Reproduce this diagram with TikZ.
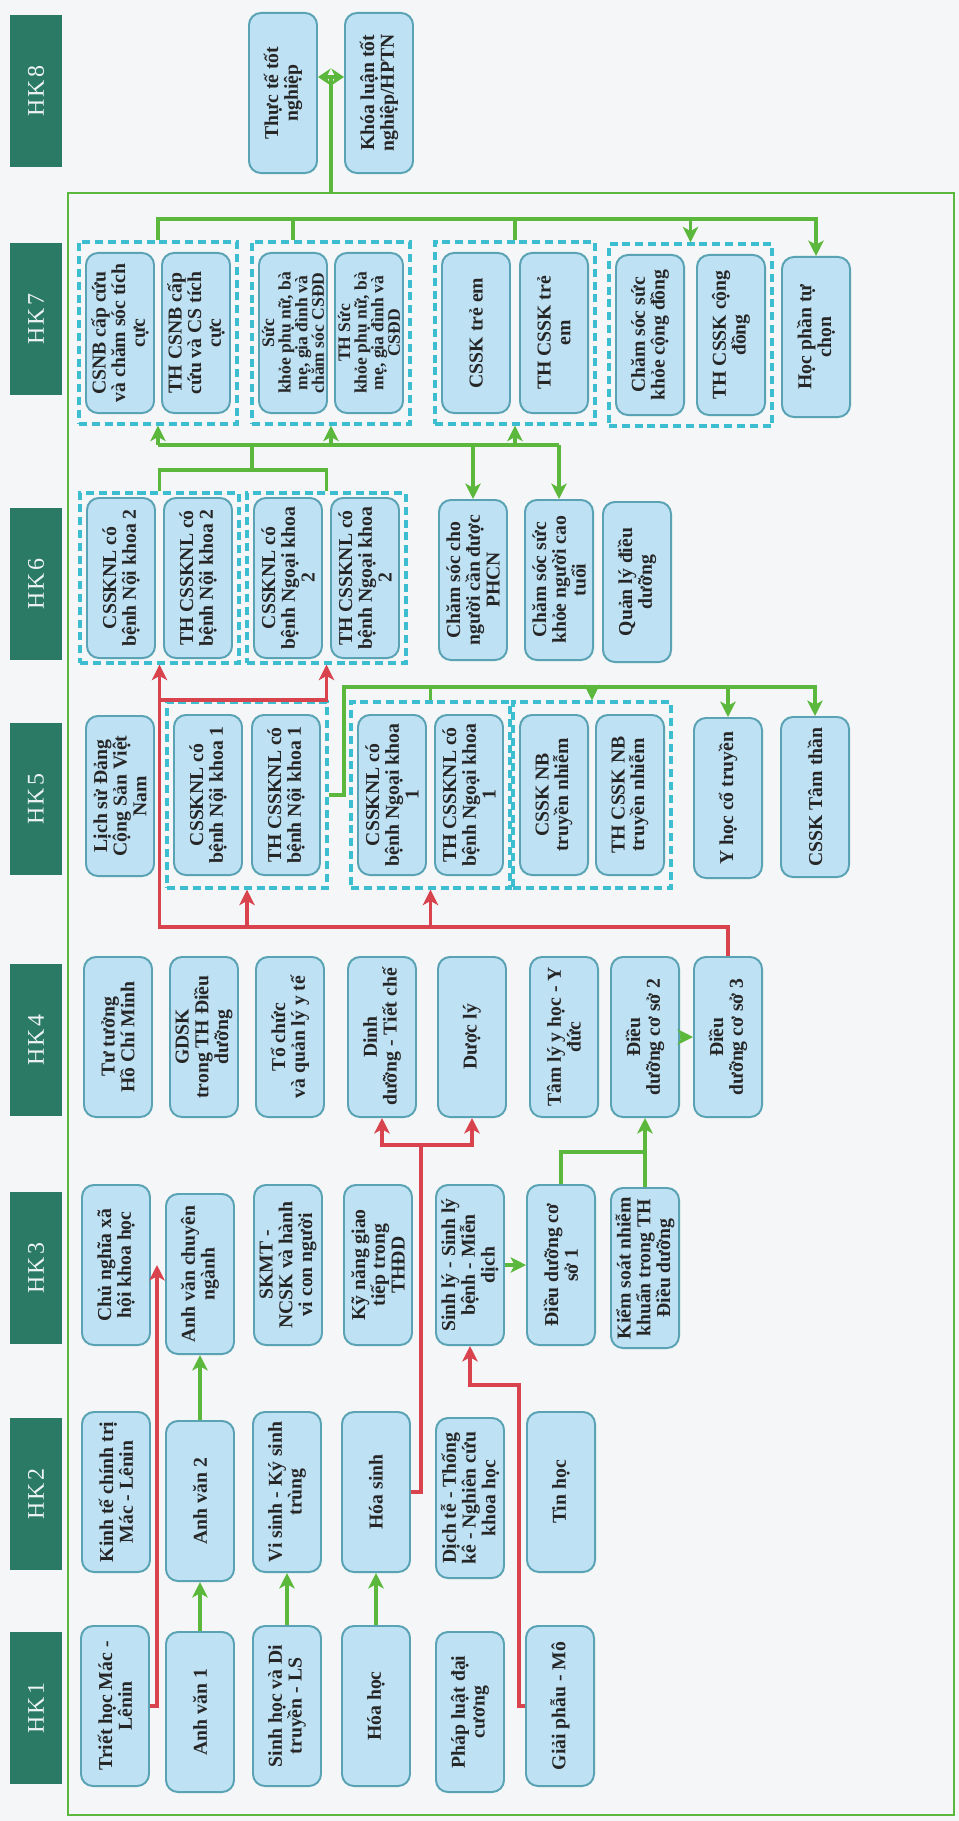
\documentclass[tikz,border=0pt]{standalone}
\usepackage{fontspec}
\setmainfont{Liberation Serif}
\newfontfamily\hkfont[LetterSpace=8]{Liberation Serif}
\usetikzlibrary{arrows.meta,fit}
\definecolor{hkteal}{HTML}{2A7A65}
\definecolor{boxfill}{HTML}{BFE1F4}
\definecolor{boxline}{HTML}{5AA3B5}
\definecolor{grpline}{HTML}{3DBDD0}
\definecolor{lgreen}{HTML}{5CB83C}
\definecolor{lred}{HTML}{D9434E}
\definecolor{paper}{HTML}{F4F6F7}

\begin{document}
\begin{tikzpicture}[x=0.025cm,y=-0.025cm,
                    hk/.style={fill=hkteal,text=white!92!hkteal,rotate=90,minimum width=3.8cm,minimum height=1.3cm,font=\hkfont\fontsize{17}{17}\selectfont},
                    course/.style={draw=boxline,line width=1.4pt,fill=boxfill,rounded corners=0.3cm,rotate=90,minimum width=4cm,minimum height=1.7cm,inner sep=1pt,align=center,text=black!85,font=\bfseries\fontsize{14}{14}\selectfont},
                    fourline/.style={font=\bfseries\fontsize{12.5}{11.8}\selectfont},
                    grp/.style={draw=grpline,line width=2.4pt,dash pattern=on 0.2cm off 0.12cm,inner xsep=0.15cm,inner ysep=0.25cm},
                    gline/.style={draw=lgreen,line width=2.6pt},
                    rline/.style={draw=lred,line width=2.4pt},
                    gto/.style={gline,-{Stealth[length=11pt,width=11pt,inset=3pt]}},
                    rto/.style={rline,-{Stealth[length=11pt,width=11pt,inset=3pt]}}]
                    \useasboundingbox (0,0) rectangle (959,1821);
                    \fill[paper] (0,0) rectangle (959,1821);
                    \draw[lgreen,line width=2pt] (68,193) rectangle (954,1815);
                    \node[hk] (hk8) at (36,91) {HK8};
                    \node[hk] (hk7) at (36,319) {HK7};
                    \node[hk] (hk6) at (36,584) {HK6};
                    \node[hk] (hk5) at (36,799) {HK5};
                    \node[hk] (hk4) at (36,1040) {HK4};
                    \node[hk] (hk3) at (36,1268) {HK3};
                    \node[hk] (hk2) at (36,1494) {HK2};
                    \node[hk] (hk1) at (36,1708) {HK1};
                    \node[course] (thucte) at (283,93) {Thực tế tốt\\nghiệp};
                    \node[course] (khoaluan) at (379,93) {Khóa luận tốt\\nghiệp/HPTN};
                    \node[course] (csnb) at (120,333) {CSNB cấp cứu\\và chăm sóc tích\\cực};
                    \node[course] (thcsnb) at (196,333) {TH CSNB cấp\\cứu và CS tích\\cực};
                    \node[course,fourline] (skpn) at (293,333) {Sức\\khỏe phụ nữ, bà\\mẹ, gia đình và\\chăm sóc CSĐD};
                    \node[course,fourline] (thskpn) at (369,333) {TH Sức\\khỏe phụ nữ, bà\\mẹ, gia đình và\\CSĐD};
                    \node[course] (csskte) at (476,333) {CSSK trẻ em};
                    \node[course] (thcsskte) at (554,333) {TH CSSK trẻ\\em};
                    \node[course] (cscd) at (650,335) {Chăm sóc sức\\khỏe cộng đồng};
                    \node[course] (thcscd) at (731,335) {TH CSSK cộng\\đồng};
                    \node[course] (hptc) at (816,337) {Học phần tự\\chọn};
                    \node[grp,fit=(csnb)(thcsnb)] (g7a) {};
                    \node[grp,fit=(skpn)(thskpn)] (g7b) {};
                    \node[grp,fit=(csskte)(thcsskte)] (g7c) {};
                    \node[grp,fit=(cscd)(thcscd)] (g7d) {};
                    \node[course] (nk2) at (121,578) {CSSKNL có\\bệnh Nội khoa 2};
                    \node[course] (thnk2) at (198,578) {TH CSSKNL có\\bệnh Nội khoa 2};
                    \node[course] (ngk2) at (288,578) {CSSKNL có\\bệnh Ngoại khoa\\2};
                    \node[course] (thngk2) at (365,578) {TH CSSKNL có\\bệnh Ngoại khoa\\2};
                    \node[course] (phcn) at (473,580) {Chăm sóc cho\\người cần được\\PHCN};
                    \node[course] (caotuoi) at (559,580) {Chăm sóc sức\\khỏe người cao\\tuổi};
                    \node[course] (qldd) at (637,582) {Quản lý điều\\dưỡng};
                    \node[grp,inner ysep=0.1cm,fit=(nk2)(thnk2)] (g6a) {};
                    \node[grp,inner ysep=0.1cm,fit=(ngk2)(thngk2)] (g6b) {};
                    \node[course] (lichsu) at (120,796) {Lịch sử Đảng\\Cộng Sản Việt\\Nam};
                    \node[course] (nk1) at (208,795) {CSSKNL có\\bệnh Nội khoa 1};
                    \node[course] (thnk1) at (286,795) {TH CSSKNL có\\bệnh Nội khoa 1};
                    \node[course] (ngk1) at (392,795) {CSSKNL có\\bệnh Ngoại khoa\\1};
                    \node[course] (thngk1) at (469,795) {TH CSSKNL có\\bệnh Ngoại khoa\\1};
                    \node[course] (nbtn) at (554,795) {CSSK NB\\truyền nhiễm};
                    \node[course] (thnbtn) at (630,795) {TH CSSK NB\\truyền nhiễm};
                    \node[course] (yhct) at (728,798) {Y học cổ truyền};
                    \node[course] (tamthan) at (815,797) {CSSK Tâm thần};
                    \node[grp,inner ysep=0.3cm,fit=(nk1)(thnk1)] (g5a) {};
                    \node[grp,inner ysep=0.3cm,fit=(ngk1)(thngk1)] (g5b) {};
                    \node[grp,inner ysep=0.3cm,fit=(nbtn)(thnbtn)] (g5c) {};
                    \node[course] (tthcm) at (118,1037) {Tư tưởng\\Hồ Chí Minh};
                    \node[course] (gdsk) at (204,1037) {GDSK\\trong TH Điều\\dưỡng};
                    \node[course] (tochuc) at (290,1037) {Tổ chức\\và quản lý y tế};
                    \node[course] (dinhduong) at (382,1037) {Dinh\\dưỡng - Tiết chế};
                    \node[course] (duocly) at (472,1037) {Dược lý};
                    \node[course] (tamly) at (564,1037) {Tâm lý y học - Y\\đức};
                    \node[course] (ddcs2) at (645,1037) {Điều\\dưỡng cơ sở 2};
                    \node[course] (ddcs3) at (728,1037) {Điều\\dưỡng cơ sở 3};
                    \node[course] (cnxh) at (116,1265) {Chủ nghĩa xã\\hội khoa học};
                    \node[course] (avcn) at (200,1274) {Anh văn chuyên\\ngành};
                    \node[course] (skmt) at (288,1265) {SKMT -\\NCSK và hành\\vi con người};
                    \node[course] (kynang) at (378,1265) {Kỹ năng giao\\tiếp trong\\THĐD};
                    \node[course] (sinhly) at (470,1265) {Sinh lý - Sinh lý\\bệnh - Miễn\\dịch};
                    \node[course] (ddcs1) at (561,1265) {Điều dưỡng cơ\\sở 1};
                    \node[course] (ksnk) at (645,1268) {Kiểm soát nhiễm\\khuẩn trong TH\\Điều dưỡng};
                    \node[course] (kinhte) at (116,1492) {Kinh tế chính trị\\Mác - Lênin};
                    \node[course] (av2) at (200,1501) {Anh văn 2};
                    \node[course] (visinh) at (287,1492) {Vi sinh - Ký sinh\\trùng};
                    \node[course] (hoasinh) at (376,1492) {Hóa sinh};
                    \node[course] (dichte) at (470,1498) {Dịch tễ - Thống\\kê - Nghiên cứu\\khoa học};
                    \node[course] (tinhoc) at (561,1492) {Tin học};
                    \node[course] (triet) at (115,1706) {Triết học Mác -\\Lênin};
                    \node[course] (av1) at (200,1712) {Anh văn 1};
                    \node[course] (sinhhoc) at (287,1706) {Sinh học và Di\\truyền - LS};
                    \node[course] (hoahoc) at (376,1706) {Hóa học};
                    \node[course] (phapluat) at (470,1712) {Pháp luật đại\\cương};
                    \node[course] (giaiphau) at (560,1706) {Giải phẫu - Mô};
                    \coordinate (ftop) at (331,193);
                    \coordinate (a8) at (331,77);
                    \coordinate (bus7) at (0,219);
                    \coordinate (bus6b) at (0,445);
                    \coordinate (bus6a) at (0,470);
                    \coordinate (j6) at (252,470);
                    \coordinate (bus5) at (0,687);
                    \coordinate (bus56) at (0,700);
                    \coordinate (bus45) at (0,927);
                    \coordinate (bus4) at (0,1145);
                    \coordinate (bus3) at (0,1152);
                    \coordinate (bus2) at (0,1385);
                    \draw[gline] (ftop) -- (a8);
                    \draw[gline,{Stealth[length=9pt,width=12pt]}-{Stealth[length=9pt,width=12pt]}] (thucte.south |- a8) -- (khoaluan.north |- a8);
                    \draw[gto] (g7a.north) |- (hptc.east |- bus7) -- (hptc.east);
                    \draw[gline] (skpn |- bus7) -- (skpn |- g7b.north);
                    \draw[gline] (g7c.north |- bus7) -- (g7c.north);
                    \draw[gto] (g7d.north |- bus7) -- (g7d.north);
                    \draw[gline] (g6a.north) |- (g6b.north |- bus6a) -- (g6b.north);
                    \draw[gline] (j6) -- (j6 |- bus6b);
                    \draw[gline] (g7a.south |- bus6b) -- (caotuoi.east |- bus6b);
                    \draw[gto] (g7a.south |- bus6b) -- (g7a.south);
                    \draw[gto] (g7b.south |- bus6b) -- (g7b.south);
                    \draw[gto] (g7c.south |- bus6b) -- (g7c.south);
                    \draw[gto] (phcn.east |- bus6b) -- (phcn.east);
                    \draw[gto] (caotuoi.east |- bus6b) -- (caotuoi.east);
                    \draw[gto] (g5a.east) -- ++(15,0) |- (tamthan.east |- bus5) -- (tamthan.east);
                    \draw[gline] (g5b.north |- bus5) -- (g5b.north);
                    \draw[gto] (g5c.north |- bus5) -- (g5c.north);
                    \draw[gto] (yhct.east |- bus5) -- (yhct.east);
                    \draw[gline] (ddcs1.east) |- (ksnk.east |- bus3) -- (ksnk.east);
                    \draw[gto] (ksnk.east |- bus3) -- (ddcs2.west);
                    \draw[gto] (ddcs2) -- (ddcs3);
                    \draw[gto] (sinhly) -- (ddcs1);
                    \draw[gto] (av1) -- (av2);
                    \draw[gto] (av2) -- (avcn);
                    \draw[gto] (sinhhoc) -- (visinh);
                    \draw[gto] (hoahoc) -- (hoasinh);
                    \draw[rto] (ddcs3.east) |- (g6a.south |- bus45) -- (g6a.south);
                    \draw[rto] (g5a.south |- bus45) -- (g5a.south);
                    \draw[rto] (g5b.south |- bus45) -- (g5b.south);
                    \draw[rto] (g6a.south |- bus56) -| (g6b.south);
                    \draw[rto] (hoasinh.south) -- ++(10,0) |- (dinhduong.west |- bus4) -- (dinhduong.west);
                    \draw[rto] (dinhduong.west |- bus4) -- (duocly.west |- bus4) -- (duocly.west);
                    \draw[rto] (giaiphau.north) -- ++(-6,0) |- (sinhly.west |- bus2) -- (sinhly.west);
                    \draw[rto] (triet.south) -| ([xshift=0.15cm]cnxh.south);
                \end{tikzpicture}
\end{document}
